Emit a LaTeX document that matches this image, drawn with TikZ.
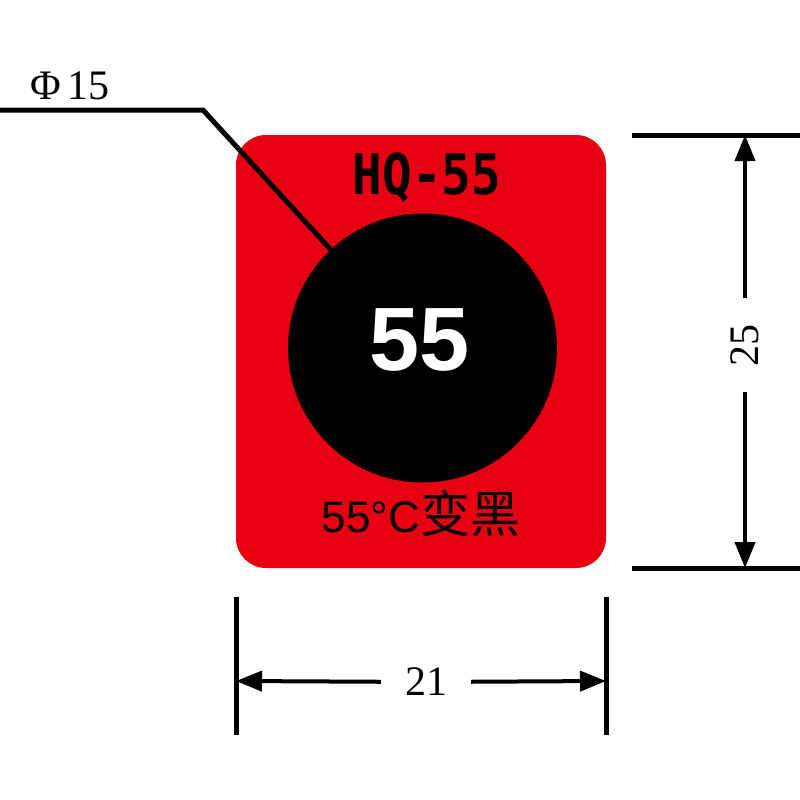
\documentclass[tikz,border=0pt]{standalone}
\usepackage{fontspec}
\setmainfont{Liberation Serif}
\newfontfamily\labelsans{Liberation Sans}
\newfontfamily\labelmono[FakeStretch=0.88]{DejaVu Sans Mono}
\newfontfamily\cjk{Noto Sans CJK SC}
\usetikzlibrary{arrows.meta}
\definecolor{tagred}{RGB}{230,0,18}

\begin{document}
\begin{tikzpicture}[x=1pt, y=-1pt,
    dimtext/.style={font=\fontsize{42}{42}\selectfont, inner sep=0pt},
    dimline/.style={line width=5pt},
    dimarrow/.style={line width=4pt, -{Triangle[length=26pt,width=20pt]}}]
    \useasboundingbox (0,0) rectangle (800,800);
    % the label
    \node[fill=tagred, rounded corners=30pt, minimum width=370pt, minimum height=433pt, inner sep=0pt] (tag) at (421,351.5) {};
    \node[circle, fill=black, minimum size=269pt, inner sep=0pt] (dot) at (422.5,348) {};
    \node[font=\labelmono\bfseries\fontsize{56}{56}\selectfont, inner sep=0pt] (model) at (427,178) {HQ-55};
    \node[text=white, font=\labelsans\bfseries\fontsize{90}{90}\selectfont, inner sep=0pt] (temp) at (420,340) {55};
    \node[font=\labelsans\fontsize{44}{44}\selectfont, inner sep=0pt] (note) at (421,513) {55°C{\cjk\fontsize{50}{50}\selectfont 变黑}};
    % diameter leader
    \coordinate (lead) at (0,110);
    \coordinate (knee) at (203,110);
    \draw[dimline] (lead) -- (knee) -- (dot.133);
    \node[dimtext] (phi) at (70,86) {Φ\hspace{6pt}15};
    % height
    \coordinate (ht1) at (632,135); \coordinate (ht2) at (800,135);
    \coordinate (hb1) at (632,568); \coordinate (hb2) at (800,568);
    \draw[dimline] (ht1) -- (ht2);
    \draw[dimline] (hb1) -- (hb2);
    \coordinate (vt) at (745,135); \coordinate (vb) at (745,568);
    \node[dimtext, rotate=90, inner xsep=26pt] (height) at (745,345) {25};
    \draw[dimarrow] (height) -- (vt);
    \draw[dimarrow] (height) -- (vb);
    % width
    \coordinate (wl1) at (236,597); \coordinate (wl2) at (236,735);
    \coordinate (wr1) at (606,597); \coordinate (wr2) at (606,735);
    \draw[dimline] (wl1) -- (wl2);
    \draw[dimline] (wr1) -- (wr2);
    \coordinate (wl) at (236,681); \coordinate (wr) at (606,681);
    \node[dimtext, inner xsep=24pt] (width) at (426,682) {21};
    \draw[dimarrow] (width) -- (wl);
    \draw[dimarrow] (width) -- (wr);
\end{tikzpicture}
\end{document}
